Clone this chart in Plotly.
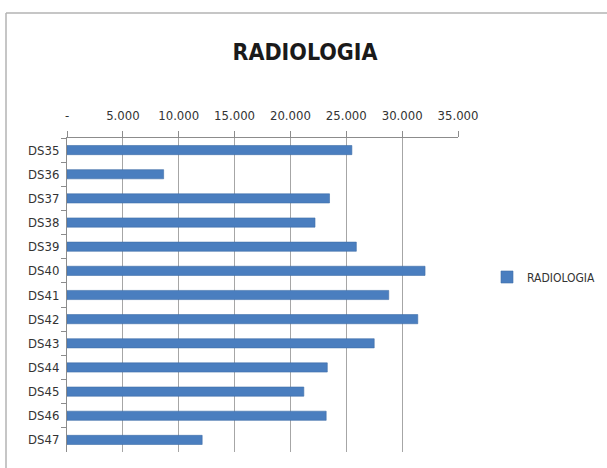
import plotly.graph_objects as go

categories = ["DS35", "DS36", "DS37", "DS38", "DS39", "DS40", "DS41",
              "DS42", "DS43", "DS44", "DS45", "DS46", "DS47"]
values = [25500, 8650, 23500, 22200, 25900, 32050, 28800,
          31400, 27500, 23300, 21200, 23200, 12100]
tick_vals = [0, 5000, 10000, 15000, 20000, 25000, 30000, 35000]
tick_text = ["-", "5.000", "10.000", "15.000", "20.000", "25.000", "30.000", "35.000"]
series_name = "RADIOLOGIA"
title_text = "RADIOLOGIA"

FONT = "DejaVu Sans Condensed, Liberation Sans Narrow, sans-serif"

fig = go.Figure()
fig.add_trace(go.Bar(
    x=values, y=categories, orientation="h", name=series_name,
    marker=dict(color="#4A7EBF", line=dict(color="#3F6FA8", width=0.6)),
    showlegend=True,
))

L, R, T, B = 67, 149, 138, 16
W, H = 607, 468
pw, ph = W - L - R, H - T - B

def px_x(p):
    return (p - L) / pw

def px_y(p):
    return (H - B - p) / ph

fig.update_layout(
    width=W, height=H,
    margin=dict(l=L, r=R, t=T, b=B, autoexpand=False),
    paper_bgcolor="white", plot_bgcolor="white",
    bargap=0.62,
    title=dict(text="<b>" + title_text + "</b>", x=305 / W, xanchor="center",
               y=1 - 52 / H, yanchor="middle",
               font=dict(family=FONT, size=23, color="#1a1a1a")),
    font=dict(family=FONT, size=13, color="#333333"),
    legend=dict(x=px_x(487), y=px_y(277), xanchor="left", yanchor="middle",
                font=dict(family=FONT, size=12, color="#333333"),
                itemwidth=30, bgcolor="rgba(0,0,0,0)"),
    xaxis=dict(side="top", range=[0, 35000], tickvals=tick_vals, ticktext=tick_text,
               showgrid=True, gridcolor="#a6a6a6", gridwidth=1,
               showline=True, linecolor="#8c8c8c", linewidth=1,
               ticks="outside", ticklen=6, tickcolor="#8c8c8c", automargin=False,
               ticklabelstandoff=6,
               zeroline=False, tickfont=dict(family=FONT, size=13, color="#333333")),
    yaxis=dict(autorange="reversed", type="category", automargin=False,
               showline=True, linecolor="#8c8c8c", linewidth=1,
               ticks="outside", ticklen=5, tickcolor="#8c8c8c", tickson="boundaries",
               ticklabelstandoff=4,
               showgrid=False, tickfont=dict(family=FONT, size=13, color="#333333")),
    shapes=[
        dict(type="line", xref="paper", yref="paper",
             x0=px_x(6), x1=px_x(607), y0=px_y(13), y1=px_y(13),
             line=dict(color="#b3b3b3", width=1.5)),
        dict(type="line", xref="paper", yref="paper",
             x0=px_x(6), x1=px_x(6), y0=px_y(13), y1=px_y(468),
             line=dict(color="#b3b3b3", width=1.5)),
    ],
)

fig.write_html("out.html", config={"displayModeBar": False},
               post_script="document.body.style.margin='0';")
